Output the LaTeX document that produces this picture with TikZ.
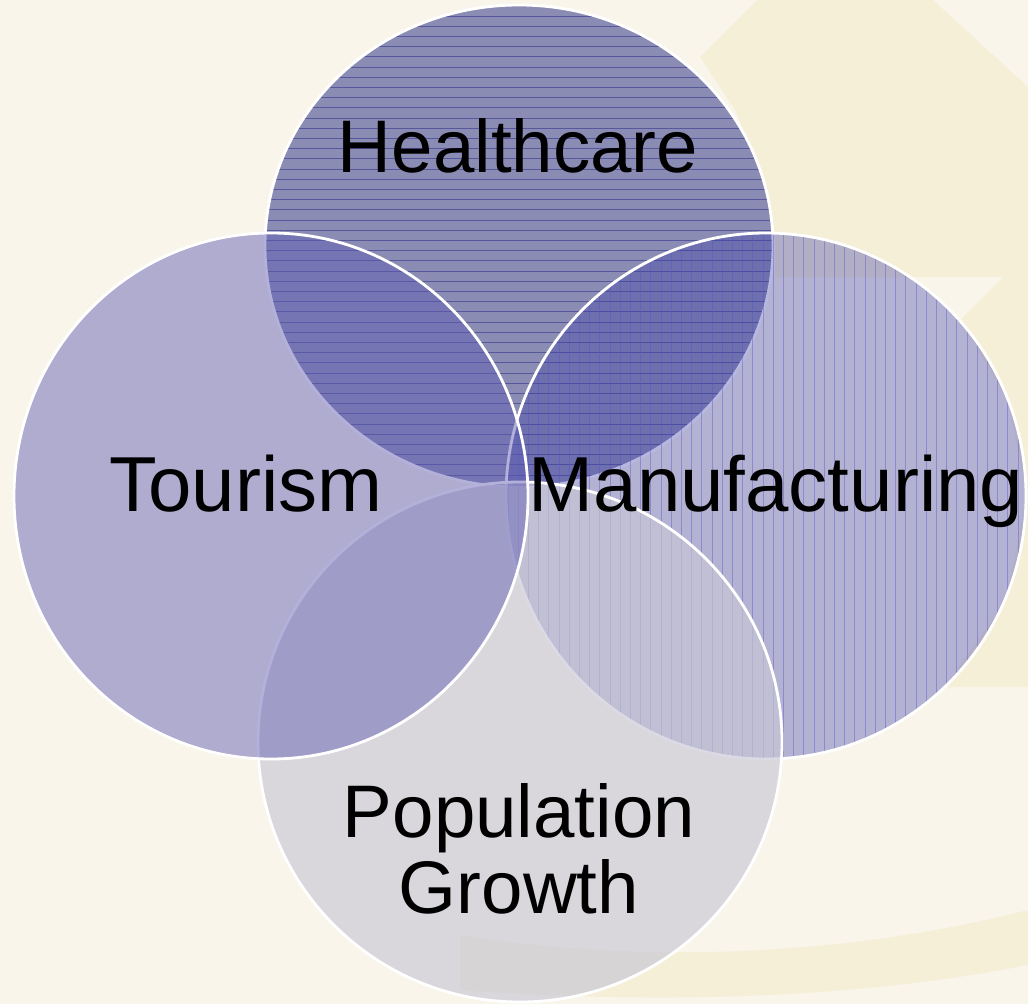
\documentclass[tikz,border=0pt]{standalone}
\usepackage{fontspec}
\setmainfont{Liberation Sans}
\definecolor{bgc}{HTML}{F9F5EA}
\definecolor{bgdark}{HTML}{F5EFD8}
\definecolor{hcol}{RGB}{67,70,144}
\definecolor{mcol}{RGB}{62,64,169}
\definecolor{pcol}{RGB}{200,199,214}
\definecolor{tcol}{RGB}{97,93,178}
\definecolor{hline}{RGB}{45,45,140}
\definecolor{mline}{RGB}{85,85,200}
\tikzset{
  ring/.style={draw=white, line width=2.8pt},
  hlines/.style={draw=hline, draw opacity=0.55, line width=0.8pt},
  mlines/.style={draw=mline, draw opacity=0.42, line width=0.7pt},
  lbl/.style={text=black, inner sep=0pt, align=center},
  bigfont/.style={font=\fontsize{78}{80}\selectfont},
  midfont/.style={font=\fontsize{74.5}{76}\selectfont}
}
\begin{document}
\begin{tikzpicture}[x=1pt,y=-1pt]
\useasboundingbox (0,0) rectangle (1028,1004);
% background
\fill[bgc] (0,0) rectangle (1028,1004);
\fill[bgdark] (700,57) -- (757,0) -- (933,0) -- (1028,87) -- (1028,687) -- (945,687) -- (1006,600) -- (1027,496) -- (1008,400) -- (960,320) -- (1003,277) -- (775,277) -- (775,246) -- (765,180) -- (735,110) -- cycle;
\fill[bgdark] (460,935) .. controls (650,965) and (850,955) .. (1028,910) -- (1028,965) .. controls (850,1000) and (650,1004) .. (460,990) -- cycle;
% Healthcare
\begin{scope}
  \clip (519,246) ellipse [x radius=254pt, y radius=241pt];
  \fill[hcol, fill opacity=0.6] (200,0) rectangle (800,500);
  \foreach \k in {0,...,47} \draw[hlines] (260,{16+10.2*\k}) -- (780,{16+10.2*\k});
\end{scope}
\draw[ring] (519,246) ellipse [x radius=254pt, y radius=241pt];
% Manufacturing
\begin{scope}
  \clip (766,496) ellipse [x radius=260pt, y radius=263pt];
  \fill[mcol, fill opacity=0.37] (500,220) rectangle (1028,780);
  \foreach \k in {-25,...,27} \draw[mlines] ({752.7+10.2*\k},230) -- ({752.7+10.2*\k},770);
\end{scope}
\draw[ring] (766,496) ellipse [x radius=260pt, y radius=263pt];
% Population Growth
\fill[pcol, fill opacity=0.65] (520,742) ellipse [x radius=262pt, y radius=260pt];
\draw[ring] (520,742) ellipse [x radius=262pt, y radius=260pt];
% Tourism
\fill[tcol, fill opacity=0.48] (271,496) ellipse [x radius=257pt, y radius=263pt];
\draw[ring] (271,496) ellipse [x radius=257pt, y radius=263pt];
% labels
\node[lbl, midfont, anchor=base] (hc) at (518,172) {Healthcare};
\node[lbl, bigfont, anchor=base] (tour) at (246,511) {Tourism};
\node[lbl, bigfont, anchor=base] (manu) at (776,511) {Manufacturing};
\node[lbl, midfont, anchor=base] (pop) at (519,913) {Population\\Growth};
\end{tikzpicture}
\end{document}
